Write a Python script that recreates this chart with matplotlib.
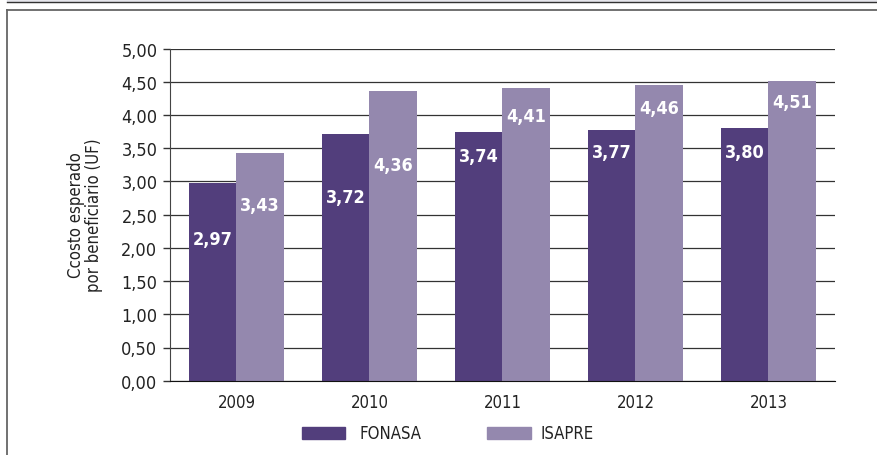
import numpy as np
import matplotlib
matplotlib.use("Agg")
import matplotlib.pyplot as plt
from matplotlib.lines import Line2D
from matplotlib.patches import Rectangle

plt.rcParams['font.family'] = ['DejaVu Sans']
plt.rcParams['font.stretch'] = 'condensed'

years = ["2009", "2010", "2011", "2012", "2013"]
fonasa = [2.97, 3.72, 3.74, 3.77, 3.80]
isapre = [3.43, 4.36, 4.41, 4.46, 4.51]
# where the value labels sit inside the bars (data units)
fonasa_lab_y = [2.14, 2.76, 3.39, 3.45, 3.44]
isapre_lab_y = [2.64, 3.25, 3.99, 4.10, 4.20]
yticks = np.arange(0, 5.01, 0.5)

c_fon = "#523e7c"
c_isa = "#9488ae"

fig = plt.figure(figsize=(8.78, 4.56), dpi=100)
ax = fig.add_axes([170/878, 1-381.7/456, 665/878, (381.7-49.7)/456])

x = np.arange(len(years))
w = 0.354
ax.bar(x - w/2, fonasa, w, color=c_fon, label="FONASA", zorder=2)
ax.bar(x + w/2, isapre, w, color=c_isa, label="ISAPRE", zorder=2)

def fmt(v):
    return f"{v:.2f}".replace(".", ",")

for i in range(len(years)):
    ax.text(x[i] - w/2, fonasa_lab_y[i], fmt(fonasa[i]), ha="center", va="center",
            color="white", fontsize=13, fontweight="bold", zorder=3)
    ax.text(x[i] + w/2, isapre_lab_y[i], fmt(isapre[i]), ha="center", va="center",
            color="white", fontsize=13, fontweight="bold", zorder=3)

ax.set_xlim(-0.5, len(years) - 0.5)
ax.set_ylim(0, 5)
ax.set_yticks(yticks)
ax.set_yticklabels([fmt(v) for v in yticks], fontsize=13)
ax.set_xticks(x)
ax.set_xticklabels(years, fontsize=12)
ax.tick_params(axis="x", length=0, pad=9, colors="#222222")
ax.tick_params(axis="y", length=5, width=1, color="#333333", pad=4, labelcolor="#222222")
ax.grid(axis="y", color="#333333", lw=0.9, zorder=1)
ax.set_axisbelow(True)
for s in ["top", "right"]:
    ax.spines[s].set_visible(False)
ax.spines["left"].set_color("#444444")
ax.spines["bottom"].set_color("#111111")
ax.spines["bottom"].set_zorder(4)

fig.text(85/878, 1-215/456, "Ccosto esperado\npor beneficiario (UF)", rotation=90,
         ha="center", va="center", fontsize=12, color="#222222", linespacing=1.0)

# legend drawn as patches + text
fig.patches.append(Rectangle((302/878, 1-440/456), 43/878, 12/456, transform=fig.transFigure,
                             color=c_fon, figure=fig))
fig.text(360/878, 1-434/456, "FONASA", ha="left", va="center", fontsize=12, color="#222222")
fig.patches.append(Rectangle((487/878, 1-440/456), 44/878, 12/456, transform=fig.transFigure,
                             color=c_isa, figure=fig))
fig.text(541/878, 1-434/456, "ISAPRE", ha="left", va="center", fontsize=12, color="#222222")

# frame lines
fig.patches.append(Rectangle((7/878, 1-2.5/456), 871/878, 2.5/456, transform=fig.transFigure,
                             color="#e6e6ec", figure=fig))
fig.add_artist(Line2D([7/878, 1], [1-2.5/456, 1-2.5/456], color="#333333", lw=1))
fig.add_artist(Line2D([7.5/878, 1], [1-10.5/456, 1-10.5/456], color="#666666", lw=1.3))
fig.add_artist(Line2D([7.5/878, 7.5/878], [0, 1-10.5/456], color="#666666", lw=1.3))

fig.savefig("out.png", dpi=100)
